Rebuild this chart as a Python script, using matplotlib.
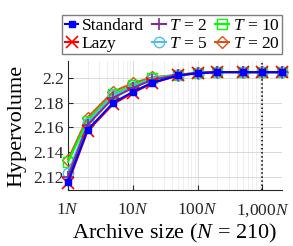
import matplotlib
matplotlib.use("Agg")
import matplotlib.pyplot as plt
from matplotlib.ticker import FixedLocator, LogLocator, NullFormatter

plt.rcParams['font.family'] = ['Liberation Serif', 'DejaVu Serif']
plt.rcParams['mathtext.fontset'] = 'custom'
plt.rcParams['mathtext.rm'] = 'Liberation Serif'
plt.rcParams['mathtext.it'] = 'Liberation Serif:italic'

# archive size in multiples of N
sizes = [1, 2, 5, 10, 20, 50, 100, 200, 500, 1000, 2000]
standard = [2.1162, 2.158, 2.180, 2.1888, 2.1962, 2.2020, 2.2038, 2.2047, 2.2047, 2.2047, 2.2047]
lazy = [2.1150, 2.157, 2.179, 2.1880, 2.1958, 2.2020, 2.2038, 2.2047, 2.2047, 2.2047, 2.2047]
t2 = [2.1203, 2.162, 2.184, 2.1920, 2.1985, 2.2024, 2.2040, 2.2048, 2.2047, 2.2047, 2.2047]
t5 = [2.1230, 2.164, 2.186, 2.1930, 2.1995, 2.2025, 2.2041, 2.2048, 2.2047, 2.2047, 2.2047]
t10 = [2.1320, 2.1656, 2.187, 2.1940, 2.2000, 2.2025, 2.2041, 2.2048, 2.2047, 2.2047, 2.2047]
t20 = [2.1340, 2.168, 2.189, 2.1958, 2.2005, 2.2026, 2.2042, 2.2048, 2.2047, 2.2047, 2.2047]

xtick_vals = [1, 10, 100, 1000]
xtick_labels = ['1$N$', '10$N$', '100$N$', '1,000$N$']
ytick_vals = [2.12, 2.14, 2.16, 2.18, 2.2]
ytick_labels = ['2.12', '2.14', '2.16', '2.18', '2.2']

fig = plt.figure(figsize=(2.93, 2.46), dpi=100)
ax = fig.add_axes([68 / 293, 1 - 190 / 246, 214 / 293, 129 / 246])

series = [
    ("Standard", standard, (0, 0, 1), 's', dict(markersize=4, markerfacecolor=(0, 0, 1))),
    ("Lazy", lazy, (1, 0, 0), 'x', dict(markersize=8, markeredgewidth=1.2)),
    ("$T$ = 2", t2, (0.494, 0.184, 0.556), '+', dict(markersize=9, markeredgewidth=1.2)),
    ("$T$ = 5", t5, (0.301, 0.745, 0.933), 'o', dict(markersize=7.5, markerfacecolor='none')),
    ("$T$ = 10", t10, (0, 1, 0), 's', dict(markersize=6.5, markerfacecolor='none')),
    ("$T$ = 20", t20, (0.85, 0.325, 0.098), 'D', dict(markersize=6.5, markerfacecolor='none')),
]
zorders = [8, 7, 6, 5, 4, 3]
handles = []
for (name, vals, col, mk, kw), z in zip(series, zorders):
    h, = ax.plot(sizes, vals, color=col, marker=mk, lw=1.5, label=name,
                 clip_on=False, zorder=z, **kw)
    handles.append(h)

ax.axvline(1000, color='black', ls=':', lw=1.1, zorder=2)

ax.set_xscale('log')
ax.set_xlim(1, 2000)
ax.set_ylim(2.1095, 2.2137)
ax.xaxis.set_major_locator(FixedLocator(xtick_vals))
ax.set_xticklabels(xtick_labels)
ax.xaxis.set_minor_locator(LogLocator(base=10, subs=range(2, 10)))
ax.xaxis.set_minor_formatter(NullFormatter())
ax.set_yticks(ytick_vals)
ax.set_yticklabels(ytick_labels)

ax.grid(True, which='major', color='#d9d9d9', lw=0.7)
ax.grid(True, which='minor', axis='x', color='#ececec', lw=0.6)
ax.set_axisbelow(True)
for s in ['top', 'right']:
    ax.spines[s].set_visible(False)
for s in ['left', 'bottom']:
    ax.spines[s].set_color('#262626')
    ax.spines[s].set_linewidth(0.8)
ax.tick_params(which='both', direction='in', labelsize=12.5, colors='#262626')
ax.tick_params(which='minor', length=0)
ax.tick_params(axis='y', pad=3)
ax.tick_params(axis='x', pad=9)

ax.set_xlabel('Archive size ($N$ = 210)', fontsize=16, labelpad=2)
ax.set_ylabel('Hypervolume', fontsize=16, labelpad=5)

fig.legend(handles=handles, ncol=3, loc='upper right',
           bbox_to_anchor=(282 / 293, 1 - 15 / 246), fontsize=12.5,
           fancybox=False, edgecolor='#7f7f7f', framealpha=1,
           handlelength=0.8, handletextpad=0.2, columnspacing=0.45,
           labelspacing=0.1, borderpad=0.15, borderaxespad=0)

fig.savefig('out.png', dpi=100)
